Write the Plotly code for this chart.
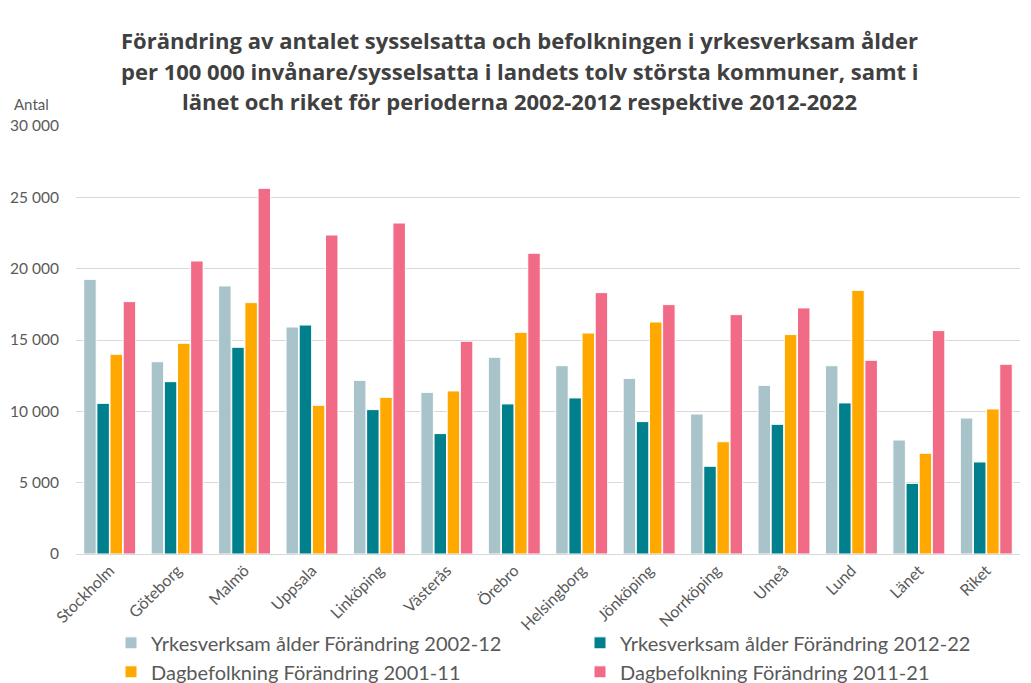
import plotly.graph_objects as go

categories = ["Stockholm", "Göteborg", "Malmö", "Uppsala", "Linköping", "Västerås", "Örebro",
              "Helsingborg", "Jönköping", "Norrköping", "Umeå", "Lund", "Länet", "Riket"]

yrk_2002_12 = [19250, 13480, 18790, 15910, 12170, 11330, 13790, 13200, 12310, 9810, 11820, 13200, 7990, 9530]
yrk_2012_22 = [10560, 12080, 14490, 16050, 10120, 8440, 10520, 10940, 9280, 6150, 9090, 10590, 4950, 6450]
dag_2001_11 = [14000, 14770, 17620, 10420, 10980, 11430, 15540, 15490, 16260, 7870, 15380, 18480, 7060, 10170]
dag_2011_21 = [17690, 20540, 25630, 22360, 23200, 14910, 21080, 18320, 17480, 16780, 17250, 13580, 15660, 13300]

series_names = ["Yrkesverksam ålder Förändring 2002-12", "Yrkesverksam ålder Förändring 2012-22",
                "Dagbefolkning Förändring 2001-11", "Dagbefolkning Förändring 2011-21"]
series_values = [yrk_2002_12, yrk_2012_22, dag_2001_11, dag_2011_21]
colors = ["#A8C4CA", "#00808C", "#FFA800", "#F26B86"]
legend_ids = ["legend", "legend2", "legend", "legend2"]

title_lines = ["Förändring av antalet sysselsatta och befolkningen i yrkesverksam ålder",
               "per 100 000 invånare/sysselsatta i landets tolv största kommuner, samt i",
               "länet och riket för perioderna 2002-2012 respektive 2012-2022"]

# figure geometry (page body adds an 8px offset)
W, H = 1023, 675
L, R, T, B = 68, 11, 118, 129
PW = W - L - R
PH = H - T - B

fig = go.Figure()
for i, (name, vals, col, lg) in enumerate(zip(series_names, series_values, colors, legend_ids)):
    fig.add_trace(go.Bar(x=categories, y=vals, name=name, marker_color=col,
                         marker_line_color="white", marker_line_width=1,
                         legend=lg, legendgroup="g%d" % i))

legend_common = dict(orientation="v", yanchor="top", xanchor="left", itemwidth=30,
                     font=dict(size=20, color="#595959", family="Lato, sans-serif"),
                     tracegroupgap=0, bgcolor="rgba(0,0,0,0)")

annotations = []
for k, (line, yc) in enumerate(zip(title_lines, [40, 71, 101])):
    annotations.append(dict(
        text=line, xref="paper", yref="paper",
        x=(519.5 - 8 - L) / PW, y=1 + (T - (yc - 8)) / PH,
        xanchor="center", yanchor="middle", showarrow=False,
        font=dict(family="Open Sans, sans-serif", size=22, color="#404040", weight="bold")))
annotations.append(dict(text="Antal", xref="paper", yref="paper", x=-(L - 4) / PW, y=1 + (T - 96) / PH,
                        xanchor="left", yanchor="middle", showarrow=False,
                        font=dict(size=15, color="#595959")))

fig.update_layout(
    width=W, height=H,
    paper_bgcolor="white", plot_bgcolor="white",
    font=dict(family="Lato, sans-serif", color="#595959"),
    separators=", ",
    barmode="group", bargap=0.22, bargroupgap=0.05,
    margin=dict(l=L, r=R, t=T, b=B, autoexpand=False),
    xaxis=dict(tickangle=-45, tickfont=dict(size=16, color="#595959"),
               showline=True, linecolor="#D9D9D9", linewidth=1, ticks="", showgrid=False),
    yaxis=dict(range=[0, 30000], dtick=5000, tickformat=",d", showgrid=True, gridcolor="#D9D9D9",
               gridwidth=1, zeroline=False, ticks="", tickfont=dict(size=15.5, color="#595959"),
               ticklabelstandoff=16),
    legend=dict(x=(111 - 8 - L) / PW, y=-0.162, **legend_common),
    legend2=dict(x=(580 - 8 - L) / PW, y=-0.162, **legend_common),
    annotations=annotations,
)

fig.write_html("out.html")
